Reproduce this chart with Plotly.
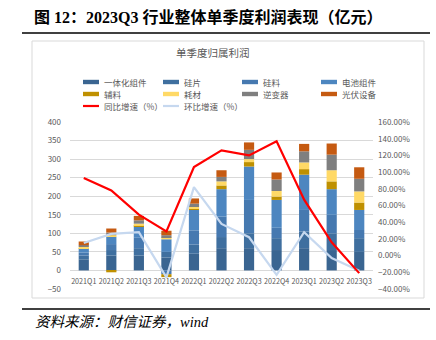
import plotly.graph_objects as go

quarters = ["2021Q1", "2021Q2", "2021Q3", "2021Q4", "2022Q1", "2022Q2",
            "2022Q3", "2022Q4", "2023Q1", "2023Q2", "2023Q3"]

yitihua = [30, 40, 40, 35, 45, 60, 60, 55, 60, 55, 50]
guipian = [10, 15, 20, 15, 25, 30, 40, 32, 45, 45, 37]
guiliao = [8, 16, 28, -10, 38, 55, 90, 28, 58, 50, 22]
dianchi = [10, 20, 30, 34, 55, 74, 90, 75, 95, 69, 54]
fuliao = [1, -5, 2, -8, 4, 10, 12, 9, 15, 21, 20]
haocai = [5, 4, 6, 6, 4, 11, 8, 15, 18, 30, 30]
nibianqi = [4, 7, 9, 5, 9, 12, 25, 31, 30, 42, 34]
shebei = [10, 11, 12, 12, 14, 18, 20, 19, 20, 30, 31]

yoy = [93, 78, 49, 29, 106, 126, 120, 137, 67, 16, -21]
qoq = [15, 26, 28, -26, 82, 38, 22, -23, 28, -3, -18]

bar_names = ["一体化组件", "硅片", "硅料", "电池组件", "辅料", "耗材", "逆变器", "光伏设备"]
bar_data = [yitihua, guipian, guiliao, dianchi, fuliao, haocai, nibianqi, shebei]
bar_colors = ["#3a6591", "#3f6f9f", "#4679b0", "#4d86c0",
              "#bf9000", "#ffd966", "#7f7f7f", "#c55a11"]
line_names = ["同比增速（%）", "环比增速（%）"]
line_colors = ["#ff0000", "#c6d8ef"]

W, H = 436, 340
PL, PR, PT, PB = 70, 373, 122, 289


def px(x):
    return (x - PL) / (PR - PL)


def py(y):
    return (PB - y) / (PB - PT)


fig = go.Figure()
for name, vals, col in zip(bar_names, bar_data, bar_colors):
    fig.add_trace(go.Bar(x=quarters, y=vals, name=name, marker_color=col,
                         marker_line_width=0, showlegend=False))
fig.add_trace(go.Scatter(x=quarters, y=qoq, name=line_names[1], yaxis="y2",
                         mode="lines", line=dict(color=line_colors[1], width=2.2),
                         showlegend=False))
fig.add_trace(go.Scatter(x=quarters, y=yoy, name=line_names[0], yaxis="y2",
                         mode="lines", line=dict(color=line_colors[0], width=2.2),
                         showlegend=False))

tick_font = dict(family="Noto Sans CJK SC, Liberation Sans", size=8, color="#595959")
xtick_font = dict(family="Noto Sans CJK SC, Liberation Sans", size=7.2, color="#595959")

shapes = []
annotations = []

# border of chart area
shapes.append(dict(type="rect", xref="paper", yref="paper",
                   x0=px(32), x1=px(424), y0=py(298), y1=py(41),
                   line=dict(color="#d9d9d9", width=1), layer="below"))
# top and bottom rules
for yy in (33, 309):
    shapes.append(dict(type="line", xref="paper", yref="paper",
                       x0=px(22), x1=px(430), y0=py(yy), y1=py(yy),
                       line=dict(color="#404040", width=2)))

annotations.append(dict(text="<b>图 12：2023Q3 行业整体单季度利润表现（亿元）</b>",
                        xref="paper", yref="paper", x=px(32), y=py(17),
                        xanchor="left", yanchor="middle", showarrow=False,
                        font=dict(family="Liberation Serif, Noto Sans CJK SC", size=16,
                                  color="#000000")))
annotations.append(dict(text="单季度归属利润", xref="paper", yref="paper",
                        x=px(213), y=py(52), xanchor="center", yanchor="middle",
                        showarrow=False,
                        font=dict(family="Noto Sans CJK SC", size=10.5, color="#595959")))
annotations.append(dict(text="<i>资料来源：财信证券，wind</i>", xref="paper", yref="paper",
                        x=px(33), y=py(322), xanchor="left", yanchor="middle",
                        showarrow=False,
                        font=dict(family="Liberation Serif, Noto Sans CJK SC", size=14.5,
                                  color="#000000")))

# manual legend
col_x = [83, 163, 242, 321]
row_y = [82, 94, 106]
items = []
for i, (n, c) in enumerate(zip(bar_names, bar_colors)):
    items.append((n, c, "bar", row_y[i // 4], col_x[i % 4]))
items.append((line_names[0], line_colors[0], "line", row_y[2], col_x[0]))
items.append((line_names[1], line_colors[1], "line", row_y[2], col_x[1]))
for n, c, kind, yy, xx in items:
    h = 2.2 if kind == "bar" else 1.1
    shapes.append(dict(type="rect", xref="paper", yref="paper",
                       x0=px(xx), x1=px(xx + 16), y0=py(yy + h), y1=py(yy - h),
                       fillcolor=c, line=dict(width=0)))
    annotations.append(dict(text=n, xref="paper", yref="paper", x=px(xx + 19), y=py(yy),
                            xanchor="left", yanchor="middle", showarrow=False,
                            font=dict(family="Noto Sans CJK SC", size=8.5, color="#595959")))

fig.update_layout(
    width=W, height=H,
    margin=dict(l=PL, r=W - PR, t=PT, b=H - PB, pad=0),
    paper_bgcolor="white", plot_bgcolor="white",
    barmode="relative", bargap=0.63,
    showlegend=False,
    xaxis=dict(type="category", anchor="free", position=py(276), showline=False,
               showgrid=False, zeroline=False, tickfont=xtick_font, ticks="",
               tickangle=0),
    yaxis=dict(range=[-50, 400], dtick=50, tick0=0, showgrid=True, gridcolor="#d9d9d9",
               gridwidth=1, zeroline=False, showline=False, tickfont=tick_font,
               ticks="", ticklabelstandoff=8),
    yaxis2=dict(range=[-40, 160], dtick=20, tick0=0, overlaying="y", side="right",
                showgrid=False, zeroline=False, showline=False, tickfont=tick_font,
                tickformat=".2f", ticksuffix="%", ticks="", ticklabelstandoff=4),
    shapes=shapes, annotations=annotations,
)

fig.write_html("out.html")
